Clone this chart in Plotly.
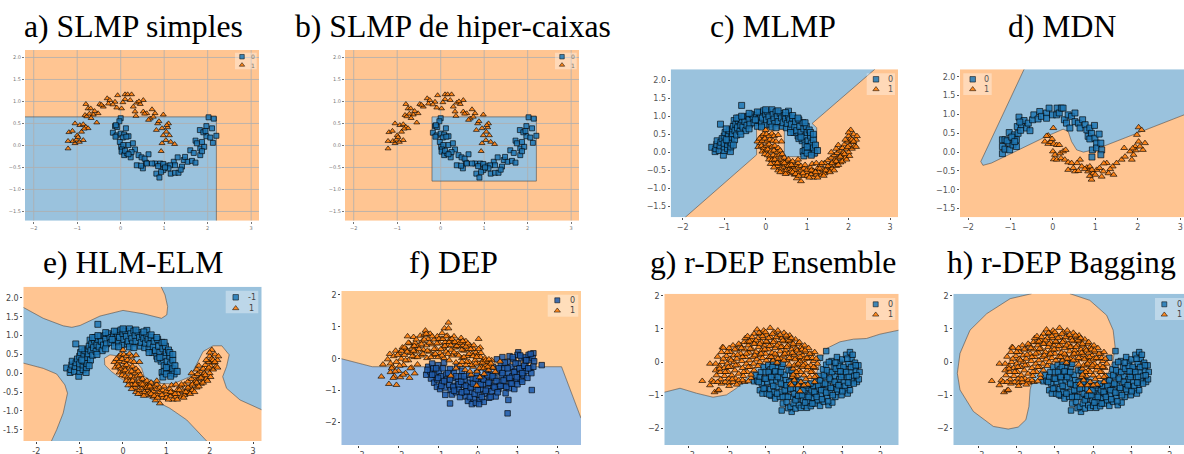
import plotly.graph_objects as go

TITLES = ["a) SLMP simples", "b) SLMP de hiper-caixas", "c) MLMP", "d) MDN",
          "e) HLM-ELM", "f) DEP", "g) r-DEP Ensemble", "h) r-DEP Bagging"]

# ---- points ----
A0 = [(0,.62),(-.03,.55),(-.13,.44),(-.08,.42),(-.11,.46),(.12,.39),(-.18,.29),(-.09,.23),(-.12,.2),(0,.27),(.08,.25),(.05,.18),(.18,.21),(.13,.2),(-.02,.08),(.01,-.03),(.06,.01),(.18,.01),(.28,.05),(.03,-.09),(.02,-.14),(.08,-.22),(.15,-.18),(.1,-.12),(.23,-.27),(.33,-.09),(.41,-.22),(.48,-.27),(.25,-.15),(.37,-.45),(.51,-.52),(.58,-.39),(.64,-.2),(.55,-.3),(.47,-.46),(.79,-.41),(.82,-.64),(.89,-.73),(.91,-.41),(.86,-.47),(.98,-.56),(.93,-.6),(1.06,-.46),(1.15,-.64),(1.25,-.62),(1.33,-.62),(1.22,-.37),(1.31,-.27),(1.41,-.48),(1.45,-.33),(1.38,-.55),(1.54,-.37),(1.64,-.35),(1.72,-.39),(1.6,-.11),(1.72,.11),(1.83,-.07),(1.83,-.22),(1.92,-.03),(1.87,-.13),(1.82,.35),(1.97,.44),(2.02,.64),(2.14,.61),(2.1,.39),(1.97,.21),(2.2,.22),(2.12,.06),(2.06,.18),(1.87,.08),(1.75,.05),(1.48,-.26),(1.14,-.45),(.72,-.41),(.6,-.41),(.18,-.2),(1.9,.3),(1.95,.33),(1.1,-.52),(.98,-.42),(1.02,-.5),(1.68,-.17),(1.25,-.45)]
A1 = [(-1.21,-.07),(-1.21,.1),(-1.19,.3),(-1.11,.33),(-1.05,.5),(-1.05,.05),(-1,.23),(-.95,.08),(-.94,.46),(-.9,.31),(-.86,.12),(-.86,.48),(-.8,.42),(-.82,.69),(-.8,.94),(-.75,.84),(-.69,.84),(-.75,.39),(-.63,.7),(-.55,.52),(-.52,.73),(-.48,.94),(-.4,.88),(-.31,1.07),(-.25,1.03),(-.28,.95),(-.13,.99),(-.07,1.14),(-.09,.86),(.02,.84),(.1,1.16),(.16,1.16),(.25,1.16),(.1,1.05),(.22,1.03),(.29,.88),(.37,.97),(.52,1.03),(.45,.94),(.52,.77),(.6,.73),(.72,.82),(.68,.61),(.79,.73),(.85,.5),(.98,.7),(.82,.35),(.95,.39),(1.1,.5),(1.08,.41),(1.12,.23),(1.05,.31),(.98,.23),(.95,.05),(.93,-.13),(1.15,.08),(1.24,.03),(1.04,.12),(.35,.67),(.33,.77),(.64,.58),(-1.1,.1),(-1.02,.13),(-.98,.19),(-.84,.38),(-.78,.66),(-.72,.72),(-.68,.62),(-.6,.78),(-.44,.92),(-.18,.93),(.05,.98),(.42,1.0),(.55,.72),(.75,.65),(.88,.55),(1.06,.46)]
C0 = [(-.58,1.3),(-1.09,.78),(.55,1.14),(-1.3,.14),(-1.22,.02),(-1.2,.1),(-1.18,.22),(-1.17,.32),(-1.12,.05),(-1.1,.18),(-1.08,.28),(-1.05,.38),(-1.02,-.08),(-1,.05),(-1,.15),(-1,.25),(-1,.45),(-.98,.55),(-.92,.1),(-.92,.22),(-.9,.32),(-.9,.5),(-.88,.6),(-.85,.02),(-.84,.15),(-.83,.26),(-.82,.42),(-.8,.52),(-.8,.65),(-.78,.72),(-.76,.88),(-.75,.35),(-.74,.6),(-.72,.78),(-.7,.48),(-.68,.68),(-.66,.88),(-.65,.95),(-.62,.58),(-.6,.76),(-.58,.9),(-.55,.7),(-.52,.98),(-.5,.85),(-.48,.6),(-.45,.75),(-.42,1),(-.4,.9),(-.38,.78),(-.33,1.05),(-.3,.95),(-.28,.82),(-.22,1.02),(-.2,.72),(-.18,.9),(-.15,1.1),(-.12,1),(-.1,.82),(-.08,.95),(-.05,1.15),(-.02,.75),(0,1.05),(.02,.9),(.05,1.12),(.08,.98),(.1,.78),(.12,.85),(.15,1.18),(.18,1.05),(.2,.92),(.22,.8),(.25,1.12),(.28,1),(.3,.85),(.35,1.08),(.38,.95),(.4,.72),(.42,.82),(.45,1.02),(.48,.92),(.5,.68),(.52,.8),(.55,1),(.58,.9),(.6,.65),(.62,.78),(.65,.95),(.68,.55),(.7,.7),(.72,.85),(.75,.6),(.78,.45),(.8,.9),(.82,.72),(.85,.55),(.88,.32),(.9,.82),(.92,.65),(.95,.45),(.95,.2),(.98,.72),(1,.55),(1.02,.32),(1.02,.08),(1.05,.62),(1.05,.15),(1.08,.45),(1.1,.25),(1.12,.02),(1.15,.35),(1.15,.12),(1.18,-.02),(1.2,.2),(1.25,.05),(.9,.02),(.92,-.1),(.95,.05),(1,-.02),(1.1,-.08),(-.95,.35),(-.78,.2),(-.6,.5),(-.4,.65),(-.25,.9),(-.1,.7),(.15,.7),(.25,.68),(.6,.55),(.8,.38),(1,.15),(1.08,.55),(.85,.42),(1.15,.5),(-.95,.65),(-.7,.95),(-.58,1),(-.4,1.08),(-.2,1.12),(0,1.18),(.3,1.15),(.48,1.1),(.65,1.02),(.78,.95),(.95,.82)]
C1 = [(0,.62),(-.1,.45),(-.05,.5),(.02,.5),(.08,.45),(.15,.52),(.2,.45),(.3,.48),(.38,.3),(-.2,.3),(-.15,.38),(-.12,.25),(-.08,.32),(-.02,.38),(.03,.3),(.1,.35),(.18,.32),(.25,.3),(-.18,.15),(-.1,.18),(-.05,.12),(.02,.18),(.08,.22),(.15,.15),(.22,.18),(.3,.12),(-.08,.02),(0,.05),(.05,.08),(.12,.02),(.2,.05),(.28,0),(.35,.05),(-.02,-.05),(.05,-.08),(.1,-.12),(.18,-.08),(.25,-.12),(.33,-.08),(.4,-.05),(.08,-.2),(.15,-.22),(.22,-.2),(.3,-.25),(.38,-.2),(.45,-.15),(.2,-.32),(.28,-.38),(.35,-.32),(.42,-.28),(.5,-.25),(.55,-.2),(.3,-.5),(.38,-.45),(.45,-.4),(.52,-.35),(.6,-.3),(.65,-.25),(.42,-.55),(.5,-.5),(.58,-.45),(.65,-.4),(.72,-.35),(.78,-.3),(.55,-.58),(.62,-.52),(.7,-.48),(.78,-.42),(.85,-.38),(.7,-.62),(.78,-.56),(.85,-.5),(.92,-.45),(.85,-.8),(.75,-.72),(.92,-.65),(1,-.55),(1,-.48),(1.08,-.42),(1.1,-.6),(1.15,-.52),(1.15,-.7),(1.22,-.62),(1.25,-.45),(1.28,-.55),(1.32,-.35),(1.35,-.62),(1.38,-.48),(1.42,-.3),(1.42,-.58),(1.48,-.42),(1.5,-.22),(1.52,-.52),(1.55,-.35),(1.58,-.15),(1.6,-.45),(1.62,-.28),(1.65,-.08),(1.68,-.2),(1.7,-.38),(1.72,-.02),(1.75,-.15),(1.78,.05),(1.8,-.28),(1.82,-.08),(1.85,.12),(1.88,0),(1.9,.22),(1.92,-.15),(1.95,.1),(1.98,.3),(2,.45),(2,0),(2.02,.2),(2.05,.38),(2.05,.62),(2.08,.1),(2.1,.28),(2.12,.5),(2.15,.18),(2.18,.35),(2.2,.45),(2,.55),(.12,-.32),(.2,-.42),(.28,-.3),(.35,-.55),(.45,-.3),(.55,-.38),(.48,-.6),(.65,-.55),(.72,-.6),(.8,-.65),(.62,-.35),(.9,-.58),(.95,-.35),(1,-.65),(1.05,-.7),(1.1,-.5),(1.2,-.55),(1.25,-.7),(1.3,-.45),(1.35,-.3),(1.4,-.65),(1.45,-.5),(1.5,-.38),(1.55,-.55),(1.6,-.3),(1.65,-.5),(1.7,-.25),(1.75,-.35),(1.8,-.12),(1.85,-.25),(1.9,-.05),(1.95,-.2),(2.02,-.1),(2.08,.35),(2.12,.3),(2.18,.15),(1.92,.35),(1.98,.15),(1.7,.1),(1.75,.2),(.78,-.2),(1.12,-.32),(1.22,-.3),(1.58,0)]
D0 = [(-1.19,-.04),(-1.19,.15),(-1.19,.33),(-1.13,.33),(-1.13,.08),(-1.03,.52),(-1.03,.24),(-1.02,.06),(-.94,.19),(-.91,.46),(-.86,.33),(-.86,.15),(-.84,.68),(-.82,.5),(-.8,.93),(-.76,.58),(-.74,.73),(-.68,.84),(-.62,.64),(-.58,.77),(-.54,.57),(-.48,.86),(-.45,.99),(-.35,.88),(-.31,1.08),(-.27,.95),(-.15,1.04),(-.09,1.17),(-.15,.9),(-.01,.99),(.1,1.17),(.09,.99),(.15,1.04),(.2,1.17),(.24,1.17),(.27,.86),(.36,.99),(.32,.77),(.4,.64),(.44,.95),(.52,1.04),(.52,.81),(.6,.77),(.64,.64),(.7,.86),(.76,.73),(.8,.59),(.87,.64),(.83,.42),(.98,.71),(.91,.5),(.87,.35),(.99,.37),(1.09,.48),(1.03,.24),(.93,.06),(1.03,.11),(1.13,.24),(1.15,.06),(.92,-.13),(1.13,-.07),(-1.08,.3),(-.97,.4),(-.9,.28),(-.78,.8)]
D1 = [(.01,.64),(-.11,.44),(-.15,.43),(-.19,.28),(-.11,.22),(-.05,.27),(.02,.22),(.09,.19),(.15,.19),(0,.02),(.05,-.07),(.02,-.19),(.09,-.2),(.17,-.03),(.24,.02),(.3,.06),(.19,-.16),(.28,-.2),(.36,-.27),(.44,-.29),(.36,-.47),(.52,-.51),(.48,-.42),(.64,-.2),(.57,-.29),(.68,-.38),(.8,-.41),(.87,-.38),(.83,-.51),(.91,-.73),(.87,-.63),(.95,-.56),(1.03,-.47),(1.15,-.65),(1.19,-.51),(1.27,-.29),(1.31,-.56),(1.43,-.6),(1.41,-.38),(1.5,-.29),(1.62,-.2),(1.7,-.12),(1.68,.11),(1.82,.02),(1.86,-.2),(1.94,.15),(1.98,.46),(2.02,.66),(2.09,.59),(2.17,.24),(2.12,.06),(1.9,-.07),(2.02,.28),(.92,-.47),(1,-.6),(1.1,-.42),(1.2,-.3),(.75,-.45),(.6,-.5),(1.35,-.45),(1.95,.05),(1.88,.1),(2.05,.15),(-.02,.35)]
F0 = [(.75,-1.71),(.77,-1.29),(1.36,-.98),(1.61,-.2),(-.7,-1.4),(-.82,-1.13),(1.02,.2),(1.4,.17),(-1.3,-.5),(-1.25,-.25),(-1.2,-.4),(-1.18,-.62),(-1.15,-.15),(-1.12,-.3),(-1.1,-.75),(-1.08,-.5),(-1.03,-.88),(-1.02,-.65),(-1,-.2),(-.98,-.4),(-.95,-.95),(-.92,-.55),(-.9,-.75),(-.88,-.3),(-.85,-.12),(-.83,-.9),(-.8,-.5),(-.78,-.65),(-.72,-.82),(-.7,-.32),(-.68,-.98),(-.65,-1.12),(-.62,-.6),(-.6,-.45),(-.58,-.85),(-.55,-1.05),(-.52,-.22),(-.5,-.72),(-.48,-.95),(-.45,-1.2),(-.42,-.55),(-.4,-.38),(-.38,-.82),(-.35,-1.05),(-.32,-.65),(-.3,-1.18),(-.27,-.9),(-.25,-1.32),(-.22,-.5),(-.2,-.75),(-.18,-1.05),(-.15,-1.42),(-.13,-.62),(-.1,-1.25),(-.08,-.88),(-.05,-1.38),(-.02,-.45),(0,-.7),(.02,-1.12),(.05,-1.3),(.08,-.95),(.1,-.58),(.13,-.8),(.15,-1.35),(.18,-1.1),(.2,-.4),(.22,-.65),(.25,-.95),(.28,-1.22),(.3,-.75),(.33,-.5),(.35,-1.02),(.38,-.25),(.4,-.85),(.42,-.6),(.45,-1.18),(.48,-.02),(.5,-.4),(.52,-.95),(.55,-.72),(.58,-.18),(.6,-.52),(.62,.05),(.65,-.85),(.67,-.3),(.7,-1.08),(.72,-.62),(.75,-.1),(.77,-.45),(.78,-.92),(.8,.08),(.82,-.75),(.85,-.25),(.87,-.55),(.9,-.02),(.92,-.95),(.95,-.38),(.97,-.7),(1,.12),(1.02,-.15),(1.05,-.5),(1.08,-.65),(1.1,.02),(1.12,-.3),(1.15,-.52),(1.18,.05),(1.2,-.15),(1.22,-.38),(1.25,-.6),(1.28,.12),(1.3,-.05),(1.32,-.3),(1.35,-.45),(1.38,.02),(1.42,-.08),(1.4,-.25),(-1.27,-.35),(-1.15,-.5),(-1.05,-.3),(-1,-.6),(-.92,-.85),(-.85,-.7),(-.75,-.45),(-.7,-.65),(-.62,-.88),(-.6,-1),(-.55,-.55),(-.48,-.8),(-.42,-.72),(-.4,-1.05),(-.35,-.55),(-.3,-.85),(-.28,-1.02),(-.2,-1.2),(-.18,-.9),(-.12,-.78),(-.08,-1.1),(-.05,-.62),(0,-.98),(.03,-1.42),(.07,-.8),(.1,-1.2),(.15,-.65),(.2,-1),(.25,-.52),(.27,-.75),(.32,-1.2),(.37,-.55),(.42,-.9),(.47,-.7),(.5,-1.05),(.53,-.3),(.57,-.85),(.62,-.45),(.65,-.68),(.68,-.12),(.72,-.88),(.75,-.3),(.8,-.6),(.85,-.78),(.88,.05),(.92,-.42),(.95,-.15),(.98,-.58),(1,-.8),(1.05,-.3),(1.07,.1),(1.12,-.45),(1.17,-.22),(1.22,-.05),(1.27,-.3),(1.33,.15),(1.12,-.72)]
F1 = [(-2.43,-.56),(-2.24,-.79),(-2.05,-.82),(-2.39,-.18),(-1.72,-.6),(-1.59,-.46),(-.74,1.13),(-.84,.95),(-.74,.95),(.02,.62),(.06,.35),(.44,-.41),(.56,-.09),(-.03,-.84),(-.68,-.53),(-2.27,-.02),(-2.22,.15),(-2.2,-.42),(-2.15,-.25),(-2.12,.08),(-2.1,-.55),(-2.07,.25),(-2.05,-.1),(-2,-.38),(-1.98,.18),(-1.95,-.58),(-1.93,0),(-1.9,.35),(-1.87,-.2),(-1.85,.12),(-1.82,-.45),(-1.8,.3),(-1.77,.7),(-1.75,-.05),(-1.72,.48),(-1.7,.18),(-1.67,-.28),(-1.65,.35),(-1.62,.68),(-1.6,.05),(-1.58,.5),(-1.55,.22),(-1.52,-.18),(-1.5,.4),(-1.45,.72),(-1.43,.1),(-1.4,.55),(-1.37,.28),(-1.35,.75),(-1.32,.88),(-1.3,.42),(-1.28,.02),(-1.25,.62),(-1.22,.22),(-1.2,.78),(-1.15,.45),(-1.12,.12),(-1.1,.6),(-1.05,.3),(-1.02,.7),(-1,.05),(-.97,.48),(-.95,.18),(-.92,.62),(-.9,.8),(-.87,.35),(-.85,.02),(-.82,.52),(-.8,.22),(-.77,.72),(-.75,.42),(-.72,-.05),(-.7,.6),(-.67,.28),(-.65,.1),(-.62,.5),(-.6,.7),(-.57,.35),(-.55,-.12),(-.52,.15),(-.5,.55),(-.47,.38),(-.45,-.2),(-.42,.65),(-.4,.02),(-.37,.42),(-.35,.25),(-.32,-.35),(-.3,.55),(-.27,.08),(-.25,.3),(-.22,-.1),(-.2,.42),(-.17,-.5),(-.15,.15),(-.12,-.25),(-.1,.3),(-.07,-.05),(-.05,.2),(-.02,-.4),(0,.12),(.03,-.15),(.05,-.58),(.07,.05),(.1,-.28),(.13,-.05),(.16,-.48),(.18,.02),(.2,-.2),(.23,-.1),(.27,-.35),(.3,-.22),(.35,-.05),(.38,-.28),(-2.2,-.15),(-2.17,-.3),(-2.13,-.6),(-2.08,-.4),(-2.02,.12),(-1.97,-.22),(-1.92,.25),(-1.88,-.5),(-1.85,.35),(-1.82,-.05),(-1.78,.22),(-1.75,.5),(-1.7,-.3),(-1.65,.08),(-1.62,.25),(-1.6,.4),(-1.55,.6),(-1.52,.05),(-1.48,.3),(-1.42,.45),(-1.38,.15),(-1.35,.6),(-1.3,.78),(-1.27,.25),(-1.22,.5),(-1.18,.05),(-1.15,.7),(-1.1,.3),(-1.07,.15),(-1.03,.48),(-.98,.62),(-.93,.3),(-.9,.1),(-.88,.62),(-.83,.4),(-.8,.7),(-.75,.15),(-.72,.52),(-.68,.42),(-.65,.62),(-.6,.2),(-.58,.52),(-.53,.4),(-.48,.1),(-.45,.5),(-.4,.28),(-.38,.55),(-.35,.05),(-.3,.38),(-.28,-.1),(-.25,.48),(-.22,.15),(-.18,.3),(-.15,-.2),(-.12,.08),(-.1,.42),(-.05,-.15),(-.03,.05),(.02,.3),(.04,-.3),(.08,.18),(.12,-.12),(.15,-.3),(.2,-.05),(.25,-.25),(.28,-.02),(.33,-.15),(-.3,-.2),(-.4,-.1),(-.55,-.3),(-.2,-.4)]
G0 = [(-.58,-1.46),(-.32,-1.5),(-.41,-1.39),(.58,.33),(.42,.13),(-1.3,-.58),(-1.22,-.55),(-1.25,-.4),(-1.15,-.85),(-1.15,-.45),(-1.12,-.3),(-1.1,-.65),(-1.08,-.95),(-1.05,-.15),(-1.03,-.5),(-1,-.78),(-1,-.3),(-.97,-.95),(-.95,-.6),(-.93,-.1),(-.9,-.42),(-.88,-.82),(-.87,-.22),(-.85,-1.02),(-.83,-.62),(-.8,0),(-.78,-.38),(-.78,-.9),(-.75,-1.1),(-.73,-.15),(-.72,-.55),(-.7,-.75),(-.67,-.02),(-.65,-.3),(-.63,-1.05),(-.62,-.5),(-.6,-.9),(-.58,-.15),(-.55,-1.25),(-.53,-.7),(-.5,-.38),(-.48,-1.02),(-.47,-.55),(-.45,-1.2),(-.42,-.85),(-.4,-.25),(-.38,-.6),(-.35,-1.35),(-.33,-1.05),(-.3,-.42),(-.28,-.78),(-.27,-1.25),(-.25,-.95),(-.22,-1.4),(-.2,-.58),(-.18,-1.12),(-.15,-.82),(-.13,-1.3),(-.1,-.98),(-.08,-1.38),(-.05,-.72),(-.02,-1.15),(0,-1.32),(.03,-.9),(.05,-1.05),(.08,-1.38),(.1,-.78),(.13,-1.2),(.15,-.98),(.18,-1.33),(.2,-.85),(.22,-1.08),(.25,-.72),(.28,-1.25),(.3,-.95),(.32,-.6),(.35,-1.15),(.38,-.8),(.4,-.42),(.42,-1.32),(.44,-1),(.47,-.65),(.5,-.22),(.52,-1.2),(.54,-.85),(.56,-.45),(.58,-.08),(.6,-1.05),(.62,-.7),(.64,-1.3),(.66,-.3),(.68,-.92),(.7,-.55),(.72,.03),(.74,-1.22),(.76,-.78),(.78,-.15),(.8,-.42),(.82,-1.05),(.84,-.65),(.86,.15),(.88,-.9),(.9,-.28),(.92,-.52),(.94,-.02),(.96,-.75),(.98,-1),(1,.08),(1.02,-.38),(1.04,-.6),(1.06,-.2),(1.08,-.85),(1.1,.22),(1.12,-.45),(1.14,-.95),(1.16,-.05),(1.18,-.68),(1.2,.3),(1.22,-.3),(1.24,.1),(1.26,-.55),(1.28,-.15),(1.3,-.42),(1.33,-.02),(1.35,-.25),(1.38,-.6),(1.42,-.1),(1.45,-.3),(1.43,-.52),(-1.18,-.6),(-1.05,-.8),(-1,-.5),(-.92,-.3),(-.9,-.98),(-.85,-.45),(-.82,-.15),(-.8,-.72),(-.75,-.28),(-.7,-.95),(-.68,-.45),(-.6,-.65),(-.6,-.3),(-.55,-1.05),(-.55,-.05),(-.5,-.85),(-.45,-.7),(-.42,-1.05),(-.35,-.8),(-.32,-.25),(-.25,-.6),(-.22,-1.15),(-.15,-1.02),(-.12,-.6),(-.05,-1),(-.02,-.85),(.03,-1.22),(.07,-.7),(.12,-1.05),(.17,-.65),(.22,-1.25),(.27,-.9),(.33,-1.05),(.37,-.7),(.42,-.55),(.45,-.85),(.47,-1.12),(.52,-.4),(.55,-.65),(.58,-.92),(.6,-.25),(.63,-1.18),(.67,-.5),(.7,-.78),(.73,-.3),(.75,-1),(.8,-.6),(.83,-.2),(.86,-.82),(.9,-.7),(.93,-.12),(.97,-.45),(1,-.88),(1.03,-.15),(1.07,-.72),(1.1,-.3),(1.13,.1),(1.17,-.45),(1.2,-.85),(1.23,-.15),(1.27,.22),(1.3,-.65),(1.35,-.1),(1.37,-.4),(.95,-.28),(.82,-.02),(.65,0),(1.15,-.62)]
G1 = [(-2.65,-.57),(-2.45,-.05),(-2.45,-.7),(-2.4,-.55),(-2.33,-.91),(-2.25,-.86),(-2.22,-.84),(-2.3,-.25),(-2.28,-.4),(-2.25,.16),(-2.2,-.12),(-2.18,-.3),(-2.17,-.52),(-2.15,-.65),(-2.13,0),(-2.12,.45),(-2.1,.43),(-2.08,-.18),(-2.07,-.42),(-2.05,-.6),(-2.02,.18),(-2,-.05),(-1.98,-.3),(-1.96,-.5),(-1.95,-.63),(-1.93,.1),(-1.92,.3),(-1.9,-.15),(-1.88,-.4),(-1.85,.5),(-1.85,-.6),(-1.83,.2),(-1.82,0),(-1.8,-.25),(-1.78,-.5),(-1.76,.38),(-1.75,.1),(-1.72,-.1),(-1.7,-.35),(-1.68,-.62),(-1.66,.5),(-1.65,.25),(-1.62,.03),(-1.6,-.18),(-1.58,-.42),(-1.56,.6),(-1.55,.38),(-1.53,.72),(-1.52,.15),(-1.5,-.05),(-1.48,-.3),(-1.47,.78),(-1.45,.5),(-1.43,.28),(-1.42,.05),(-1.4,-.15),(-1.38,-.48),(-1.37,.65),(-1.35,.38),(-1.33,.15),(-1.31,-.05),(-1.3,.85),(-1.3,-.25),(-1.27,.55),(-1.25,.3),(-1.23,.08),(-1.22,.98),(-1.2,.72),(-1.18,.45),(-1.16,.2),(-1.15,0),(-1.13,.85),(-1.11,.6),(-1.1,.35),(-1.08,.12),(-1.06,.72),(-1.05,.95),(-1.03,.5),(-1,.25),(-.98,.05),(-.97,.82),(-.95,.6),(-.93,.38),(-.9,.15),(-.88,1.03),(-.87,.75),(-.85,.5),(-.83,.28),(-.8,.05),(-.78,.9),(-.77,.65),(-.75,.42),(-.72,.2),(-.7,-.02),(-.68,.95),(-.67,.78),(-.65,.55),(-.62,.32),(-.6,.1),(-.58,.72),(-.56,.45),(-.54,.2),(-.52,.88),(-.5,.62),(-.48,.35),(-.45,.05),(-.43,.75),(-.42,.5),(-.4,.25),(-.38,-.08),(-.37,.8),(-.35,.62),(-.32,.38),(-.3,.1),(-.28,-.2),(-.27,.5),(-.25,.22),(-.22,.68),(-.2,-.1),(-.2,.4),(-.18,-.42),(-.17,.12),(-.15,.55),(-.13,-.25),(-.12,.28),(-.1,.02),(-.08,-.6),(-.07,.45),(-.05,-.15),(-.03,.2),(0,-.4),(.02,.5),(.03,-.05),(.05,.3),(.08,-.25),(.1,-.68),(.12,.42),(.13,.1),(.15,-.45),(.18,-.1),(.2,.25),(.22,-.3),(.25,.03),(.28,.3),(.3,-.18),(.32,-.42),(.35,-.05),(.28,-.6),(-.1,-.88),(-.35,-.65),(-.3,-.45),(-.32,-.7),(-2.2,-.2),(-2.1,.1),(-2.05,-.3),(-2,.3),(-1.97,-.15),(-1.9,.05),(-1.87,-.52),(-1.8,.38),(-1.78,-.1),(-1.73,.22),(-1.7,-.55),(-1.63,.42),(-1.6,.15),(-1.57,-.3),(-1.55,-.6),(-1.5,.25),(-1.47,.6),(-1.45,-.15),(-1.4,.4),(-1.38,-.38),(-1.35,.75),(-1.28,.2),(-1.25,.65),(-1.2,-.12),(-1.17,.88),(-1.15,.55),(-1.12,.25),(-1.08,.78),(-1.02,.38),(-1,.9),(-.98,.62),(-.92,.72),(-.9,.48),(-.85,.15),(-.82,.85),(-.8,.6),(-.75,.25),(-.72,.75),(-.7,.5),(-.68,.1),(-.62,.82),(-.6,.45),(-.55,.65),(-.52,.05),(-.5,.25),(-.46,.8),(-.45,.45),(-.4,.65),(-.38,.12),(-.33,.72),(-.3,.28),(-.28,.55),(-.25,-.1),(-.23,.08),(-.18,.35),(-.15,-.05),(-.12,.6),(-.1,.15),(-.08,-.3),(-.05,.38),(-.02,-.1),(0,.08),(.03,.35),(.05,-.52),(.08,.12),(.1,-.15),(.15,.25),(.18,-.3),(.22,.12),(.25,-.15),(.28,-.45),(.32,.1),(-.25,-.55),(-.2,-.3),(-.28,-.38),(-.15,-.7),(0,-.7),(-2.3,-.05),(-2.35,-.6),(-2.25,-.6),(-1.95,-.72),(-1.75,-.68),(-1.6,-.55),(-1.45,-.58),(-2.15,.3),(-1.95,.42),(-1.7,.55),(-1.3,.55),(-1.42,.62)]

# ---- decision-region outlines ----
REGION_B_HOLE = [(-.2,.65),(2.2,.65),(2.2,-.81),(-.2,-.81)]
EDGE_A = [(-2.2,.65),(2.2,.65),(2.2,-1.71)]
EDGE_C = [(2.63,2.3),(1.12,.8),(1.23,.68),(1.23,-.12),(.45,-.12),(.45,.67),(-.22,.67),(-.22,-.07),(-1.94,-1.8)]
EDGE_D = [(-.68,2.2),(-1.7,-.25),(-1.65,-.35),(-1.45,-.29),(-.15,.42),(.24,.61),(.36,.55),(.44,.28),(.56,.06),(.72,0),(.95,.06),(1.27,.19),(3.09,.99)]
EDGE_E1 = [(-2.3,1.75),(-1.84,1.46),(-1.38,1.26),(-1.18,1.22),(-.99,1.27),(-.53,1.52),(0,1.67),(.47,1.58),(.89,1.46),(1.01,1.55),(1.03,1.77),(.97,2.08),(.88,2.3)]
EDGE_E2 = [(-2.3,.27),(-1.84,.13),(-1.53,-.02),(-1.34,-.31),(-1.28,-.53),(-1.38,-1.06),(-1.53,-1.5),(-1.65,-1.8)]
EDGE_E3 = [(1.93,-1.8),(1.47,-1.24),(1.08,-.93),(.78,-.75),(.39,-.53),(0,-.18),(-.26,.04),(-.42,.22),(-.43,.4),(-.3,.49),(-.07,.46),(.24,.4),(.43,.13),(.49,-.09),(.78,-.27),(1.16,-.28),(1.55,-.09),(1.74,.31),(1.85,.58),(2.08,.73),(2.28,.73),(2.45,.49),(2.39,.18),(2.3,-.09),(2.39,-.4),(2.7,-.71),(3.2,-.97)]
EDGE_F = [(-3.44,0),(-2.66,-.25),(2.11,-.25),(2.6,-1.86)]
EDGE_G = [(-3.64,-.91),(-3.23,-.79),(-2.8,-.94),(-2.37,-1.06),(-2.02,-.99),(-1.76,-.79),(-1.5,-.49),(-1.15,-.09),(-.63,-.04),(-.19,-.34),(.16,-.59),(.33,-.34),(.42,0),(.59,.41),(.94,.61),(1.29,.69),(1.63,.71),(1.98,.84),(2.47,.96)]
EDGE_H = [(-.61,2.06),(-.09,1.86),(.35,1.41),(.52,.96),(.57,.46),(.52,.06),(.39,-.34),(.2,-.6),(-.3,-.3),(-.9,-.1),(-1.3,-.14),(-1.57,-.44),(-1.65,-.84),(-1.68,-1.34),(-1.76,-1.74),(-1.96,-1.96),(-2.22,-2.02),(-2.61,-1.94),(-3.13,-1.49),(-3.48,-.84),(-3.55,-.34),(-3.48,.26),(-3.22,.96),(-2.78,1.46),(-2.17,1.91),(-1.61,2.06)]

X_TICKS_TOP = [-2,-1,0,1,2,3]
Y_TICKS_TOP = [-1.5,-1,-.5,0,.5,1,1.5,2]
X_TICKS_BOT = [-3,-2,-1,0,1,2]
Y_TICKS_BOT = [-2,-1,0,1,2]
LEGEND_LABELS = [["0","1"]]*4 + [["-1","1"]] + [["0","1"]]*3

BLUE_FILL = "rgba(31,119,180,.45)"; ORANGE_FILL = "rgba(255,127,14,.45)"
W, H = 1184, 454
SERIF = "Liberation Serif"; SANS = "DejaVu Sans"

P = [
 dict(box=(25,259,50,220.7),  xr=(-2.2,3.18),  yr=(-1.71,2.17), xt=X_TICKS_TOP, yt=Y_TICKS_TOP, d=(A0,A1), ms=5, ts=5.2, tfs=5, grid=True, tc="#777",
      leg=(235,256.7,52.7,69.3,242,56.7,65,253.3), lfs=6),
 dict(box=(345,579,50,220.7), xr=(-2.2,3.18),  yr=(-1.71,2.17), xt=X_TICKS_TOP, yt=Y_TICKS_TOP, d=(A0,A1), ms=5, ts=5.2, tfs=5, grid=True, tc="#777",
      leg=(555,576.7,52.7,69.3,562,56.7,65,573.3), lfs=6),
 dict(box=(670.7,898,69.3,217.3), xr=(-2.29,3.19), yr=(-1.8,2.3), xt=X_TICKS_TOP, yt=Y_TICKS_TOP, d=(C0,C1), ms=6, ts=6, tfs=8, grid=False, tc="#555",
      leg=(866.7,895,73.3,95,876,79.3,89.3,890.7), lfs=8),
 dict(box=(960,1184,69.3,217.3), xr=(-2.19,3.09), yr=(-1.73,2.2), xt=X_TICKS_TOP, yt=Y_TICKS_TOP, d=(D0,D1), ms=6, ts=6, tfs=8, grid=False, tc="#555",
      leg=(963.3,991.7,73.3,95,972.7,79.3,89.3,986.7), lfs=8),
 dict(box=(23.3,261.7,286.7,441), xr=(-2.3,3.2), yr=(-1.8,2.3), xt=X_TICKS_TOP, yt=Y_TICKS_TOP, d=(C0,C1), ms=6, ts=6, tfs=8, grid=False, tc="#444", hy=True,
      leg=(225.7,258.3,290.7,313.3,235.7,297.3,308.3,251.7), lfs=8),
 dict(box=(341.3,581,291,445), xr=(-3.44,2.6), yr=(-2.7,2.12), xt=X_TICKS_BOT, yt=Y_TICKS_BOT, d=(F0,F1), ms=5.5, ts=6, tfs=8, grid=False, tc="#444",
      blue="rgba(36,108,190,.45)", orange="rgba(255,143,24,.45)", mb="rgba(31,90,170,.85)",
      leg=(547.7,578.3,294.7,316.7,557.3,300.3,310.7,572.7), lfs=8),
 dict(box=(664.3,898.7,293.7,445), xr=(-3.64,2.47), yr=(-2.5,2.06), xt=X_TICKS_BOT, yt=Y_TICKS_BOT, d=(G0,G1), ms=5.5, ts=6, tfs=8, grid=False, tc="#444",
      leg=(866,895.3,298,320,875.7,304.3,314.7,890.3), lfs=8),
 dict(box=(953.3,1184,293.7,445), xr=(-3.655,2.37), yr=(-2.5,2.06), xt=X_TICKS_BOT, yt=Y_TICKS_BOT, d=(G0,G1), ms=5.5, ts=6, tfs=8, grid=False, tc="#444",
      leg=(1155,1184,298,320,1164.3,304.3,314.7,1179.3), lfs=8),
]
TITLE_X = [133,453,773,1062,133,453.8,773,1061.7]
TITLE_Y = [26,26,26,26,262,262,262,262]

def regions(i):
    """returns (blue polygons, orange polygons, edge polylines)"""
    x0,x1 = P[i]["xr"]; y0,y1 = P[i]["yr"]
    if i == 0:
        return [EDGE_A+[(x0,y0)]], [EDGE_A+[(x1,y0),(x1,y1),(x0,y1)]], [EDGE_A]
    if i == 1:
        h = REGION_B_HOLE
        ring = h+[h[0]]
        return [h], [[(x0,y1),(x1,y1),(x1,y0),(x0,y0),(x0,h[0][1])]+ring[::-1]+[(x0,h[0][1])]], [ring]
    if i == 2:
        return [EDGE_C+[(x0,y0),(x0,y1)]], [EDGE_C+[(x1,y0),(x1,y1)]], [EDGE_C]
    if i == 3:
        return [EDGE_D+[(x1,y1)]], [EDGE_D+[(x1,y0),(x0,y0),(x0,y1)]], [EDGE_D]
    if i == 4:
        org = [EDGE_E1+[(x0,y1)], EDGE_E2+[(x0,y0)], EDGE_E3+[(x1,y0)]]
        blue = EDGE_E1+[(x1,y1)]+EDGE_E3[::-1]+EDGE_E2[::-1]
        return [blue], org, [EDGE_E1,EDGE_E2,EDGE_E3]
    if i == 5:
        return [EDGE_F+[(x1,y0),(x0,y0)]], [EDGE_F+[(x1,y1),(x0,y1)]], [EDGE_F]
    if i == 6:
        return [EDGE_G+[(x1,y0),(x0,y0)]], [EDGE_G+[(x1,y1),(x0,y1)]], [EDGE_G]
    blob = EDGE_H
    blue = [(x1,y1),(x1,y0),(x0,y0),(x0,y1)]+blob[::-1]
    return [blue], [blob], [blob]

fig = go.Figure()
layout = dict(width=W, height=H, margin=dict(l=0,r=0,t=0,b=0,autoexpand=False), paper_bgcolor="white",
              plot_bgcolor="rgba(0,0,0,0)", showlegend=False, annotations=[])

def xs(v): return [p[0] for p in v]
def ys(v): return [p[1] for p in v]

for i,p in enumerate(P):
    n = i+1
    sfx = "" if n == 1 else str(n)
    l,r,t,b = p["box"]
    def lab(vals, fmt):
        out = []
        for v in vals:
            s = fmt.format(v)
            out.append(s if p.get("hy") else s.replace("-","\u2212"))
        return out
    fmt_y = "{:.1f}" if p["yt"] is Y_TICKS_TOP else "{:d}"
    common = dict(showline=False, zeroline=False, ticks="outside", ticklen=2, tickwidth=.6, tickcolor=p["tc"],
                  tickfont=dict(family=SANS, size=p["tfs"], color=p["tc"]), showgrid=False, automargin=False)
    layout["xaxis"+sfx] = dict(domain=[l/W,r/W], range=list(p["xr"]), anchor="y"+sfx, tickmode="array",
                               tickvals=p["xt"], ticktext=lab(p["xt"],"{:d}"), **common)
    layout["yaxis"+sfx] = dict(domain=[1-b/H,1-t/H], range=list(p["yr"]), anchor="x"+sfx, tickmode="array",
                               tickvals=p["yt"], ticktext=lab(p["yt"],fmt_y), **common)
    ax = dict(xaxis="x"+sfx, yaxis="y"+sfx, hoverinfo="skip")
    blue,org,edges = regions(i)
    for poly in blue:
        fig.add_trace(go.Scatter(x=xs(poly),y=ys(poly),mode="lines",fill="toself",fillcolor=p.get("blue",BLUE_FILL),line=dict(width=0),**ax))
    for poly in org:
        fig.add_trace(go.Scatter(x=xs(poly),y=ys(poly),mode="lines",fill="toself",fillcolor=p.get("orange",ORANGE_FILL),line=dict(width=0),**ax))
    if p["grid"]:
        gx,gy = [],[]
        for v in p["xt"]:
            gx += [v,v,None]; gy += [p["yr"][0],p["yr"][1],None]
        for v in p["yt"]:
            gx += [p["xr"][0],p["xr"][1],None]; gy += [v,v,None]
        fig.add_trace(go.Scatter(x=gx,y=gy,mode="lines",line=dict(color="rgba(175,175,175,.8)",width=1),**ax))
    for e in edges:
        fig.add_trace(go.Scatter(x=xs(e),y=ys(e),mode="lines",line=dict(color="rgba(60,60,60,.55)",width=1),**ax))
    d0,d1 = p["d"]
    mb = p.get("mb","rgba(31,119,180,.85)")
    fig.add_trace(go.Scatter(x=xs(d0),y=ys(d0),mode="markers",name=LEGEND_LABELS[i][0],
        marker=dict(symbol="square",size=p["ms"],color=mb,line=dict(color="rgba(0,0,0,.8)",width=.8)),**ax))
    fig.add_trace(go.Scatter(x=xs(d1),y=ys(d1),mode="markers",name=LEGEND_LABELS[i][1],
        marker=dict(symbol="triangle-up",size=p["ts"],color="rgba(255,127,14,.9)",line=dict(color="rgba(0,0,0,.8)",width=.8)),**ax))
    layout["annotations"].append(dict(text=TITLES[i],x=TITLE_X[i]/W,y=1-TITLE_Y[i]/H,xref="paper",yref="paper",showarrow=False,
        xanchor="center",yanchor="middle",font=dict(family=SERIF,size=31.7,color="#000")))

# overlay axes in page pixels carry the small legends
layout["xaxis9"] = dict(domain=[0,1],range=[0,W],visible=False,anchor="y9",automargin=False)
layout["yaxis9"] = dict(domain=[0,1],range=[H,0],visible=False,anchor="x9",automargin=False)
for i,p in enumerate(P):
    x0,x1,y0,y1,kx,k0,k1,tx = p["leg"]
    ax = dict(xaxis="x9",yaxis="y9",hoverinfo="skip")
    fig.add_trace(go.Scatter(x=[x0,x1,x1,x0,x0],y=[y0,y0,y1,y1,y0],mode="lines",fill="toself",
        fillcolor="rgba(255,255,255,.35)",line=dict(width=0),**ax))
    size0 = p["ms"]-.5; size1 = p["ts"]-.5
    mb = p.get("mb","rgba(31,119,180,.85)")
    fig.add_trace(go.Scatter(x=[kx],y=[k0],mode="markers",marker=dict(symbol="square",size=size0,color=mb,line=dict(color="rgba(0,0,0,.75)",width=.7)),**ax))
    fig.add_trace(go.Scatter(x=[kx],y=[k1],mode="markers",marker=dict(symbol="triangle-up",size=size1,color="rgba(255,127,14,.9)",line=dict(color="rgba(0,0,0,.75)",width=.7)),**ax))
    for k,lbl in zip((k0,k1),LEGEND_LABELS[i]):
        layout["annotations"].append(dict(text=lbl,x=tx,y=k,xref="x9",yref="y9",showarrow=False,xanchor="center",yanchor="middle",
            font=dict(family=SANS,size=p["lfs"],color=p["tc"])))

fig.update_layout(**layout)
fig.write_html("out.html", config={"displayModeBar":False}, post_script="document.body.style.margin='0';document.body.style.overflow='hidden';")
